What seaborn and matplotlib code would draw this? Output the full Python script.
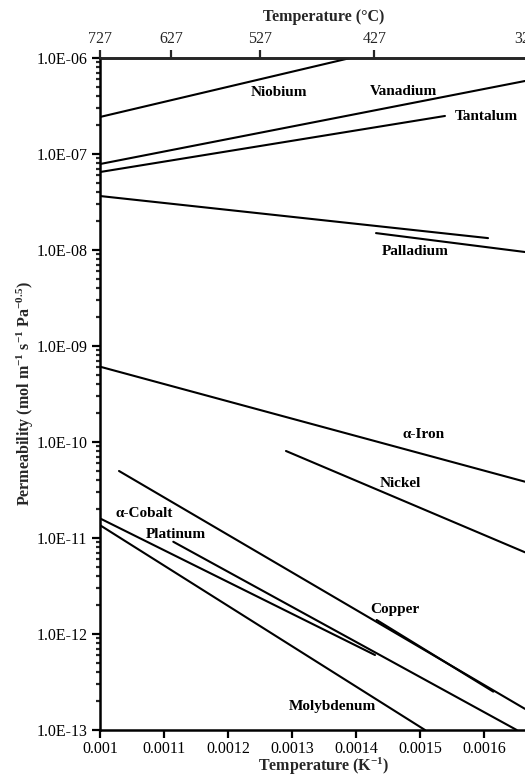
import numpy as np
import pandas as pd
import matplotlib
matplotlib.use("Agg")
import matplotlib.pyplot as plt
import matplotlib.ticker as mticker
import seaborn as sns

# ---- data ----
metals  = ["Niobium", "Vanadium", "Tantalum", "Palladium A", "Palladium B",
           "alpha-Iron", "Nickel", "Copper A", "Copper B", "alpha-Cobalt",
           "Platinum", "Molybdenum"]
x_start = [0.001, 0.001, 0.001, 0.001, 0.0014313,
           0.001, 0.0012906, 0.0010297, 0.0014323, 0.001,
           0.0011145, 0.001]
x_end   = [0.001391, 0.001664, 0.001539, 0.0016063, 0.001664,
           0.001664, 0.001664, 0.001664, 0.0016145, 0.0014297,
           0.0016511, 0.0015078]
y_start = [2.43e-7, 7.86e-8, 6.49e-8, 3.65e-8, 1.50e-8,
           6.09e-10, 8.06e-11, 4.99e-11, 1.40e-12, 1.60e-11,
           9.14e-12, 1.36e-11]
y_end   = [1.0e-6, 5.76e-7, 2.49e-7, 1.33e-8, 9.53e-9,
           3.86e-11, 7.10e-12, 1.66e-13, 2.51e-13, 6.04e-13,
           1.0e-13, 1.0e-13]

label_text = ["Niobium", "Vanadium", "Tantalum", "Palladium", "α-Iron",
              "Nickel", "α-Cobalt", "Platinum", "Copper", "Molybdenum"]
label_x = [0.0012797, 0.0014734, 0.001603, 0.0014922, 0.0015063,
           0.0014688, 0.0010688, 0.0011188, 0.0014609, 0.0013625]
label_y = [4.32e-7, 4.43e-7, 2.43e-7, 9.59e-9, 1.21e-10,
           3.71e-11, 1.81e-11, 1.10e-11, 1.81e-12, 1.75e-13]

x_ticks = [0.001, 0.0011, 0.0012, 0.0013, 0.0014, 0.0015, 0.0016]
x_tick_labels = ["0.001", "0.0011", "0.0012", "0.0013", "0.0014", "0.0015", "0.0016"]
y_ticks = [1e-13, 1e-12, 1e-11, 1e-10, 1e-9, 1e-8, 1e-7, 1e-6]
y_tick_labels = ["1.0E-13", "1.0E-12", "1.0E-11", "1.0E-10", "1.0E-09",
                 "1.0E-08", "1.0E-07", "1.0E-06"]
top_temps_c = [727, 627, 527, 427, 327]

# ---- style ----
sns.set_style("ticks")
plt.rcParams["font.family"] = ["Liberation Serif", "DejaVu Serif"]
plt.rcParams["mathtext.fontset"] = "custom"
plt.rcParams["mathtext.rm"] = "Liberation Serif"
plt.rcParams["mathtext.bf"] = "Liberation Serif:bold"
plt.rcParams["mathtext.default"] = "regular"

df = pd.DataFrame({
    "metal": metals * 2,
    "x": x_start + x_end,
    "y": y_start + y_end,
})

fig = plt.figure(figsize=(5.25, 7.76), dpi=100)
W, H = 525, 776
left_px, top_px, bottom_px = 100, 58, 730
xmin, xmax = 0.001, 0.0017
px_per_unit = 640000
width_px = (xmax - xmin) * px_per_unit
ax = fig.add_axes([left_px / W, 1 - bottom_px / H, width_px / W, (bottom_px - top_px) / H])

sns.lineplot(data=df, x="x", y="y", units="metal", estimator=None, sort=False,
             color="black", lw=1.5, ax=ax, legend=False)

ax.set_yscale("log")
ax.set_ylim(1e-13, 1e-6)
ax.set_xlim(xmin, xmax)

ax.xaxis.set_major_locator(mticker.FixedLocator(x_ticks))
ax.xaxis.set_major_formatter(mticker.FixedFormatter(x_tick_labels))
ax.xaxis.set_minor_locator(mticker.NullLocator())
ax.yaxis.set_major_locator(mticker.FixedLocator(y_ticks))
ax.yaxis.set_major_formatter(mticker.FixedFormatter(y_tick_labels))
ax.yaxis.set_minor_locator(mticker.LogLocator(base=10, subs=np.arange(2, 10), numticks=50))
ax.yaxis.set_minor_formatter(mticker.NullFormatter())

ax.tick_params(axis="both", which="major", direction="out", length=6, width=1.6,
               labelsize=11.5, colors="black")
ax.tick_params(axis="y", which="minor", direction="out", length=3, width=1.6)
ax.tick_params(axis="x", which="major", pad=2)
ax.tick_params(axis="y", which="major", pad=3)

for s in ["left", "bottom", "top"]:
    ax.spines[s].set_linewidth(1.8)
    ax.spines[s].set_color("black")
ax.spines["right"].set_visible(False)

ax.set_xlabel("Temperature (K$^{-1}$)", fontsize=11.5, fontweight="bold", labelpad=-1)
ax.set_ylabel("Permeability (mol m$^{-1}$ s$^{-1}$ Pa$^{-0.5}$)", fontsize=11.5,
              fontweight="bold", labelpad=0)

for t, x, y in zip(label_text, label_x, label_y):
    ax.text(x, y, t, ha="center", va="center", fontsize=11, fontweight="bold",
            color="black")

# top axis in degrees Celsius
ax2 = ax.twiny()
ax2.set_xlim(ax.get_xlim())
ax2.set_xticks([1.0 / (t + 273) for t in top_temps_c])
ax2.set_xticklabels([str(t) for t in top_temps_c])
ax2.tick_params(axis="x", which="major", direction="out", length=6, width=1.6,
                labelsize=11.5, pad=2)
ax2.xaxis.set_minor_locator(mticker.NullLocator())
for s in ["left", "bottom", "right"]:
    ax2.spines[s].set_visible(False)
ax2.spines["top"].set_linewidth(1.8)
ax2.set_xlabel("Temperature (°C)", fontsize=11.5, fontweight="bold", labelpad=7)

fig.savefig("out.png", dpi=100)
